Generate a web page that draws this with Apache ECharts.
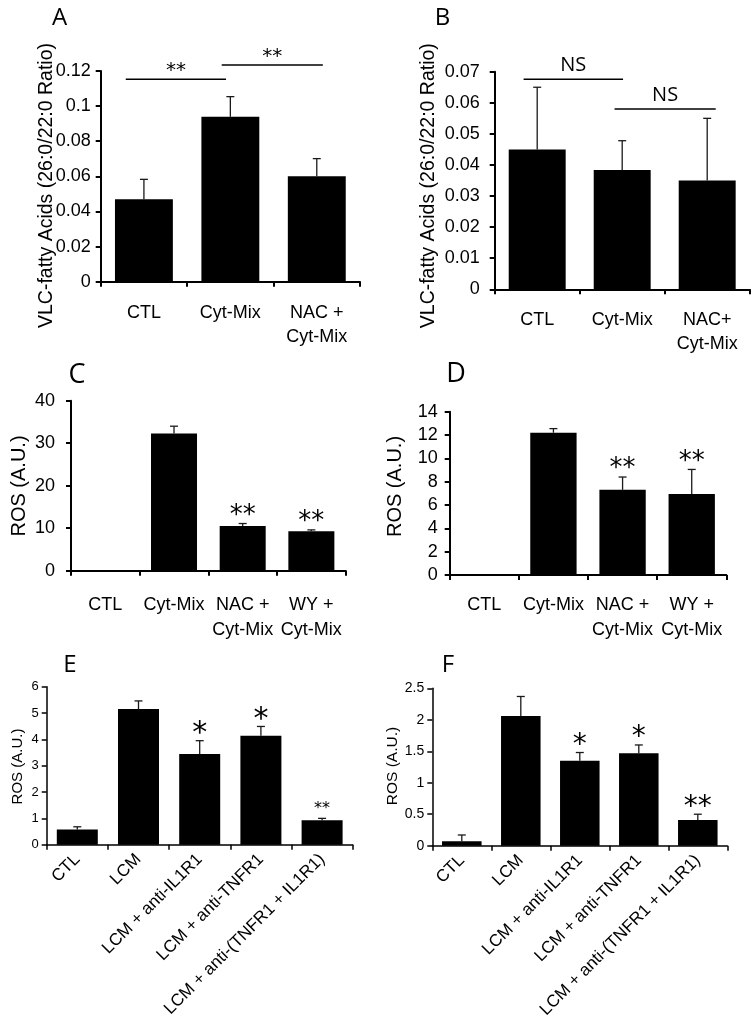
<!DOCTYPE html>
<html><head><meta charset="utf-8">
<script src="https://cdn.jsdelivr.net/npm/echarts@6/dist/echarts.min.js"></script>
<style>html,body{margin:0;padding:0;background:#fff}#c{width:756px;height:1027px}</style>
</head><body><div id="c"></div>
<script>
// ---------- DATA ----------
const catsA = ['CTL', 'Cyt-Mix', 'NAC +\nCyt-Mix'];
const meanA = [0.047, 0.094, 0.060];
const semA  = [0.0113, 0.0114, 0.0101];
const bracketsA = [[-0.21, 0.95, 0.1153, '**'], [0.90, 2.07, 0.1234, '**']];
const ticksA = [0, 0.12, 0.02];

const catsB = ['CTL', 'Cyt-Mix', 'NAC+\nCyt-Mix'];
const meanB = [0.045, 0.0384, 0.035];
const semB  = [0.020, 0.0094, 0.020];
const bracketsB = [[-0.16, 1.01, 0.0676, 'NS'], [0.91, 2.10, 0.058, 'NS']];
const ticksB = [0, 0.07, 0.01];

const catsC = ['CTL', 'Cyt-Mix', 'NAC +\nCyt-Mix', 'WY +\nCyt-Mix'];
const meanC = [0, 32.3, 10.5, 9.3];
const semC  = [0, 1.7, 0.6, 0.3];
const starsC = ['', '', '**', '**'];
const ticksC = [0, 40, 10];

const catsD = ['CTL', 'Cyt-Mix', 'NAC +\nCyt-Mix', 'WY +\nCyt-Mix'];
const meanD = [0, 12.2, 7.3, 6.95];
const semD  = [0, 0.35, 1.1, 2.1];
const starsD = ['', '', '**', '**'];
const ticksD = [0, 14, 2];

const catsEF = ['CTL', 'LCM', 'LCM + anti-IL1R1', 'LCM + anti-TNFR1', 'LCM + anti-(TNFR1 + IL1R1)'];
const meanE = [0.58, 5.15, 3.44, 4.14, 0.93];
const semE  = [0.10, 0.31, 0.51, 0.35, 0.07];
const starsE = ['', '', '*', '*', '**'];
const ticksE = [0, 6, 1];

const meanF = [0.07, 2.06, 1.35, 1.47, 0.41];
const semF  = [0.10, 0.31, 0.13, 0.13, 0.09];
const starsF = ['', '', '*', '*', '**'];
const ticksF = [0, 2.5, 0.5];

const yNameVLC = 'VLC-fatty Acids (26:0/22:0 Ratio)';
const yNameROS = 'ROS (A.U.)';

// ---------- STYLE / LAYOUT ----------
const FONT = '"Liberation Sans", Arial, sans-serif';
const LFONT = '"Open Sans", sans-serif';
const STARFONT = '"DejaVu Sans", sans-serif';

const panels = [
  {letter:'A', lx:59.5, ly:18.5, ls:24, cats:catsA, mean:meanA, sem:semA, stars:null, brackets:bracketsA, ticks:ticksA,
   yName:yNameVLC, nx:47, ny:185.5, grid:[100.7, 71, 259.3, 210.7], tickFont:18, tickMargin:10,
   nameFont:19.5, xFont:18, xMargin:19, xLH:24, rotate:0, axisW:2,
   bracketFont:{size:20, fam:STARFONT, off:13}},
  {letter:'B', lx:442.5, ly:18, ls:24, cats:catsB, mean:meanB, sem:semB, stars:null, brackets:bracketsB, ticks:ticksB,
   yName:yNameVLC, nx:429, ny:185.7, grid:[494.7, 71.7, 255, 217.6], tickFont:18, tickMargin:15,
   nameFont:19.5, xFont:18, xMargin:19, xLH:24, rotate:0, axisW:2,
   bracketFont:{size:20, fam:LFONT, off:14}},
  {letter:'C', lx:77, ly:375, ls:27, cats:catsC, mean:meanC, sem:semC, stars:starsC, ticks:ticksC,
   yName:yNameROS, nx:19, ny:486, grid:[71, 400.7, 274.7, 170], tickFont:18, tickMargin:16,
   nameFont:20, xFont:18, xMargin:22, xLH:25, rotate:0, axisW:2,
   starSize:{one:26, two:26}},
  {letter:'D', lx:456, ly:374, ls:27, cats:catsD, mean:meanD, sem:semD, stars:starsD, ticks:ticksD,
   yName:yNameROS, nx:395.5, ny:486.5, grid:[449.7, 411.7, 276.6, 163.3], tickFont:18, tickMargin:12,
   nameFont:20, xFont:18, xMargin:18, xLH:25, rotate:0, axisW:2,
   starSize:{one:26, two:26}},
  {letter:'E', lx:70, ly:665, ls:24, cats:catsEF, mean:meanE, sem:semE, stars:starsE, ticks:ticksE,
   yName:yNameROS, nx:18, ny:766.5, grid:[46.7, 686.7, 306, 158], tickFont:13, tickMargin:8,
   nameFont:15, xFont:17, xMargin:12, xLH:20, rotate:45, axisW:1.5,
   starSize:{one:30, two:16}},
  {letter:'F', lx:448, ly:665, ls:24, cats:catsEF, mean:meanF, sem:semF, stars:starsF, ticks:ticksF,
   yName:yNameROS, nx:393, ny:766, grid:[432.3, 688.3, 295, 157.4], tickFont:14, tickMargin:8,
   nameFont:15.5, xFont:17, xMargin:12, xLH:20, rotate:45, axisW:1.5,
   starSize:{one:28, two:28}}
];

const option = {backgroundColor:'#fff', animation:false, grid:[], xAxis:[], yAxis:[], series:[], graphic:[]};

panels.forEach((p, i) => {
  option.grid.push({left:p.grid[0], top:p.grid[1], width:p.grid[2], height:p.grid[3], containLabel:false});
  const line = {color:'#000', width:p.axisW};
  option.xAxis.push({type:'category', gridIndex:i, data:p.cats,
    axisLine:{lineStyle:line}, axisTick:{show:true, length:5, lineStyle:line},
    axisLabel:{interval:0, color:'#000', fontSize:p.xFont, fontFamily:FONT, lineHeight:p.xLH, margin:p.xMargin, rotate:p.rotate, hideOverlap:false}});
  option.yAxis.push({type:'value', gridIndex:i, min:p.ticks[0], max:p.ticks[1], interval:p.ticks[2],
    axisLine:{show:true, lineStyle:line}, axisTick:{show:true, length:5, lineStyle:line},
    splitLine:{show:false},
    axisLabel:{color:'#000', fontSize:p.tickFont, fontFamily:FONT, margin:p.tickMargin}});
  option.series.push({type:'bar', name:p.letter, xAxisIndex:i, yAxisIndex:i, data:p.mean, barCategoryGap:'33%',
    itemStyle:{color:'#000'}, silent:true});
  // error bars + stars
  option.series.push({type:'custom', xAxisIndex:i, yAxisIndex:i, clip:false, silent:true,
    data:p.mean.map((m, j) => [j, m + p.sem[j]]),
    renderItem:(params, api) => {
      const j = params.dataIndex;
      const m = p.mean[j], t = m + p.sem[j];
      const children = [];
      const p0 = api.coord([j, m]);
      const p1 = api.coord([j, t]);
      if (p.sem[j] > 0) {
        const st = {stroke:'#1a1a1a', lineWidth:1.3};
        children.push({type:'line', shape:{x1:p0[0], y1:p0[1], x2:p1[0], y2:p1[1]}, style:st});
        children.push({type:'line', shape:{x1:p1[0]-4, y1:p1[1], x2:p1[0]+4, y2:p1[1]}, style:st});
      }
      if (p.stars && p.stars[j]) {
        const s = p.stars[j];
        const size = s.length === 1 ? p.starSize.one : p.starSize.two;
        children.push({type:'text', x:p1[0], y:p1[1] - 13 + size*0.22,
          style:{text:s, fill:'#000', fontSize:size, fontFamily:STARFONT, align:'center', verticalAlign:'middle'}});
      }
      return {type:'group', children};
    }});
  if (p.brackets) {
    option.series.push({type:'custom', xAxisIndex:i, yAxisIndex:i, clip:false, silent:true,
      data:p.brackets.map(b => [0, b[2]]),
      renderItem:(params, api) => {
        const b = p.brackets[params.dataIndex];
        const bw = api.size([1, 0])[0];
        const base = api.coord([0, b[2]]);
        const x0 = base[0] + b[0]*bw, x1 = base[0] + b[1]*bw, y = base[1];
        const isStar = b[3].indexOf('*') >= 0;
        return {type:'group', children:[
          {type:'line', shape:{x1:x0, y1:y, x2:x1, y2:y}, style:{stroke:'#000', lineWidth:1.5}},
          {type:'text', x:(x0+x1)/2, y:y - p.bracketFont.off + (isStar ? p.bracketFont.size*0.22 : 0),
           style:{text:b[3], fill:'#000', fontSize:p.bracketFont.size, fontFamily:p.bracketFont.fam, align:'center', verticalAlign:'middle'}}
        ]};
      }});
  }
  option.graphic.push({type:'text', x:p.lx, y:p.ly,
    style:{text:p.letter, fill:'#000', fontSize:p.ls, fontFamily:LFONT, align:'center', verticalAlign:'middle'}});
  option.graphic.push({type:'text', x:p.nx, y:p.ny, rotation:Math.PI/2,
    style:{text:p.yName, fill:'#000', fontSize:p.nameFont, fontFamily:FONT, align:'center', verticalAlign:'middle'}});
});

const chart = echarts.init(document.getElementById('c'), null, {renderer:'canvas'});
chart.setOption(option);
</script></body></html>
